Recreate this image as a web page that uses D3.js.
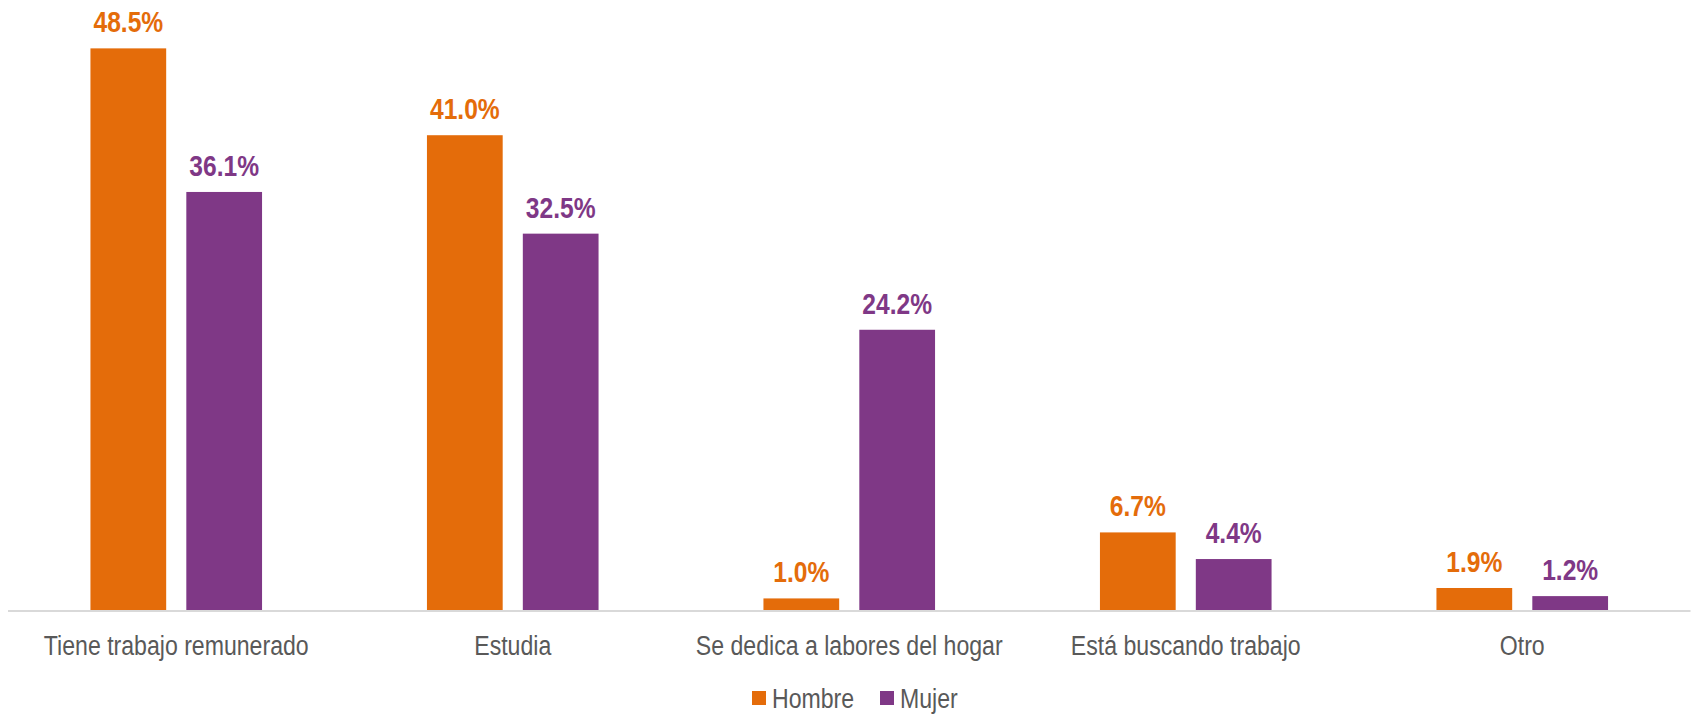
<!DOCTYPE html>
<html>
<head>
<meta charset="utf-8">
<script src="https://cdn.jsdelivr.net/npm/d3@7"></script>
<style>
  body { margin: 0; background: #fff; }
  .chart { width: 1691px; height: 717px; }
  text { font-family: "Liberation Sans", Arial, sans-serif; }
</style>
</head>
<body>
<div class="chart"></div>
<script>
var categorias = ['Tiene trabajo remunerado', 'Estudia', 'Se dedica a labores del hogar', 'Está buscando trabajo', 'Otro'];
var series = ['Hombre', 'Mujer'];
var hombre = [0.485, 0.410, 0.010, 0.067, 0.019];
var mujer = [0.361, 0.325, 0.242, 0.044, 0.012];
var colores = ['#E46C0A', '#7F3886'];

var width = 1691;
var height = 717;
var base = 610;
// no hay fuente narrow instalada, se comprime a lo ancho
var narrow = 0.82;

var svg = d3.select('.chart')
    .append('svg')
    .attr('width', width)
    .attr('height', height);

var x0 = d3.scaleBand()
    .domain(categorias)
    .range([8, 1690.5])
    .padding(0);

var x1 = d3.scaleBand()
    .domain(series)
    .range([0, x0.bandwidth()])
    .paddingInner(0.21)
    .paddingOuter(0.86);

var y = d3.scaleLinear()
    .domain([0, 0.5])
    .range([base, 31]);

var color = d3.scaleOrdinal().domain(series).range(colores);

var filas = [];
categorias.forEach(function(c, i) {
    filas.push({ cat: c, serie: 'Hombre', v: hombre[i] });
    filas.push({ cat: c, serie: 'Mujer', v: mujer[i] });
});

svg.selectAll('rect.bar')
    .data(filas)
    .enter()
    .append('rect')
    .attr('class', 'bar')
    .attr('x', d => x0(d.cat) + x1(d.serie))
    .attr('y', d => y(d.v))
    .attr('width', x1.bandwidth())
    .attr('height', d => base - y(d.v))
    .style('fill', d => color(d.serie));

svg.selectAll('text.val')
    .data(filas)
    .enter()
    .append('text')
    .attr('class', 'val')
    .attr('transform', d => 'translate(' + (x0(d.cat) + x1(d.serie) + x1.bandwidth() / 2) + ',' + (y(d.v) - 16) + ') scale(' + narrow + ',1)')
    .attr('text-anchor', 'middle')
    .style('font-size', '30px')
    .style('font-weight', 'bold')
    .style('fill', d => color(d.serie))
    .text(d => d3.format('.1%')(d.v));

// eje x
svg.append('line')
    .attr('x1', 8)
    .attr('x2', 1690.5)
    .attr('y1', base + 1)
    .attr('y2', base + 1)
    .style('stroke', '#D9D9D9')
    .style('stroke-width', 2);

var ejeX = d3.axisBottom(x0).tickSize(0).tickPadding(0);
var gx = svg.append('g')
    .attr('transform', 'translate(0,' + (base + 45) + ')')
    .call(ejeX);
gx.select('.domain').remove();
gx.selectAll('text')
    .attr('dy', 0)
    .attr('transform', 'scale(0.825,1)')
    .style('font-size', '28px')
    .style('fill', '#595959');

// leyenda
var leyX = [752, 880];
var ley = svg.selectAll('g.ley')
    .data(series)
    .enter()
    .append('g')
    .attr('class', 'ley')
    .attr('transform', (d, i) => 'translate(' + leyX[i] + ',691)');

ley.append('rect')
    .attr('width', 14)
    .attr('height', 14)
    .style('fill', d => color(d));

ley.append('text')
    .attr('transform', 'translate(20,17) scale(0.825,1)')
    .style('font-size', '28px')
    .style('fill', '#595959')
    .text(d => d);
</script>
</body>
</html>
